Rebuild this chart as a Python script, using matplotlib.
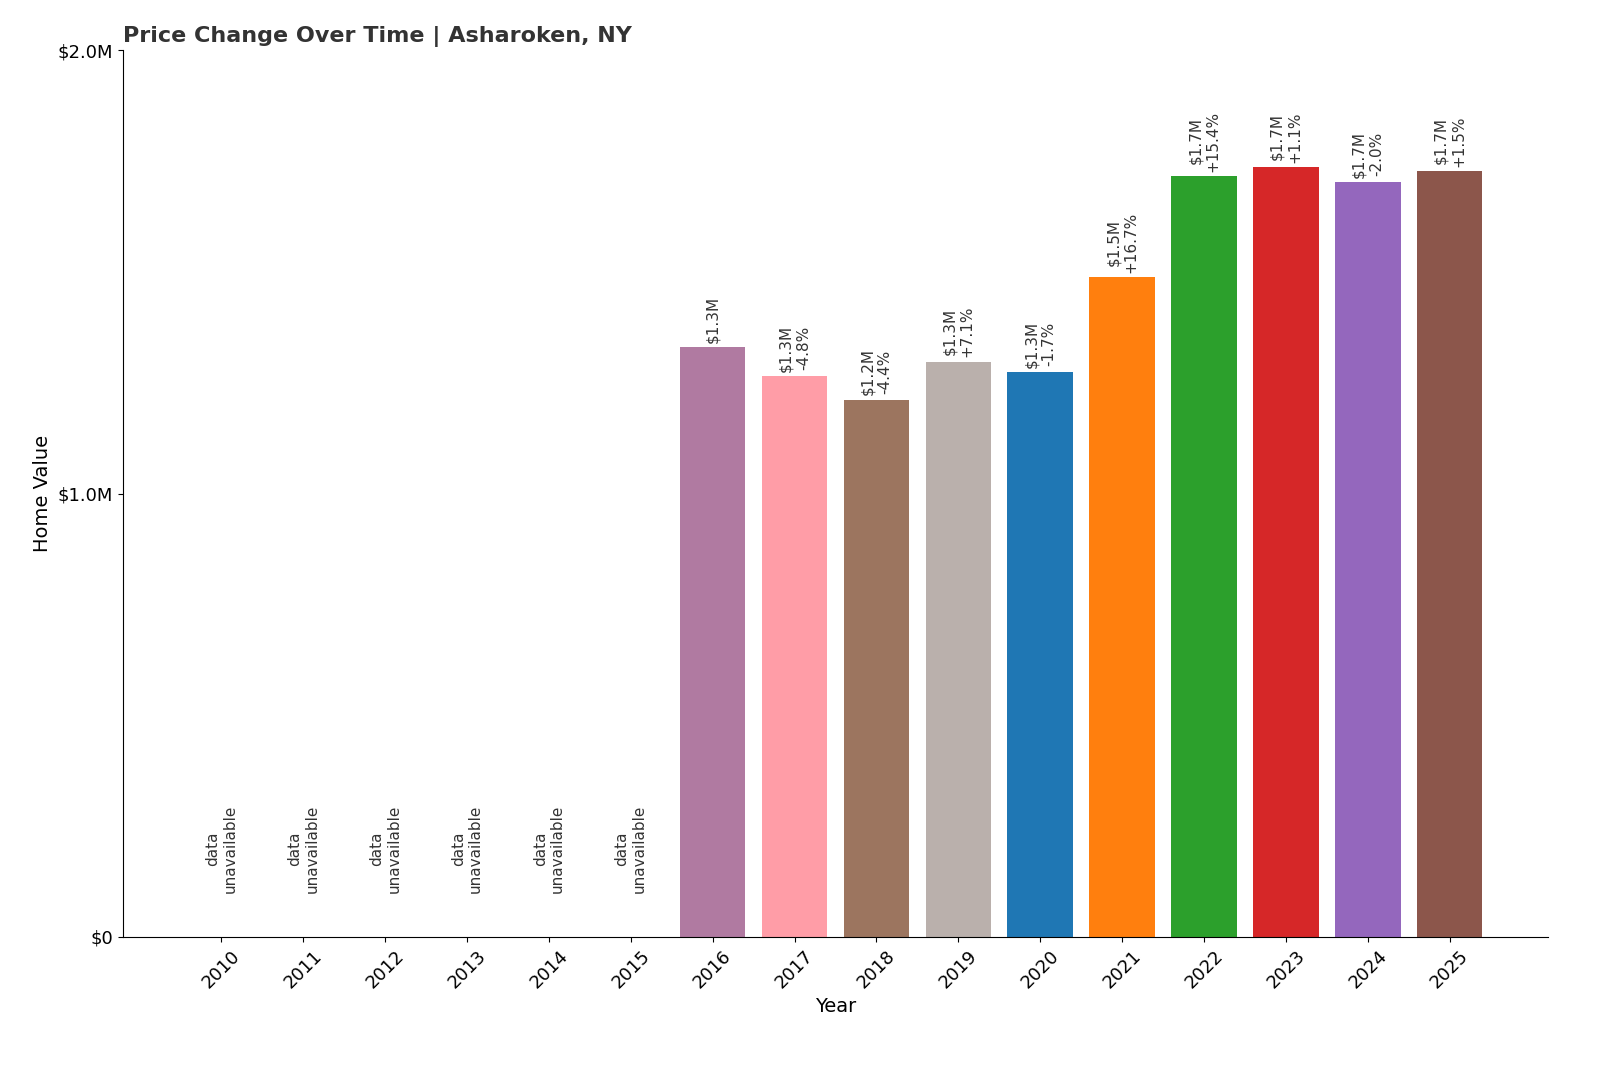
import matplotlib
matplotlib.use("Agg")
import matplotlib.pyplot as plt
from matplotlib.ticker import FuncFormatter

years = [str(y) for y in range(2010, 2026)]
values = [None] * 6 + [1.330e6, 1.265e6, 1.211e6, 1.297e6, 1.274e6, 1.488e6,
                       1.716e6, 1.736e6, 1.702e6, 1.727e6]
value_labels = ["$1.3M", "$1.3M", "$1.2M", "$1.3M", "$1.3M", "$1.5M",
                "$1.7M", "$1.7M", "$1.7M", "$1.7M"]
pct_labels = ["", "-4.8%", "-4.4%", "+7.1%", "-1.7%", "+16.7%",
              "+15.4%", "+1.1%", "-2.0%", "+1.5%"]
colors = ["#b07aa1", "#ff9da7", "#9c755f", "#bab0ac", "#1f77b4", "#ff7f0e",
          "#2ca02c", "#d62728", "#9467bd", "#8c564b"]

fig = plt.figure(figsize=(16, 10.67), dpi=100)
ax = fig.add_axes([123 / 1600, 1 - 937 / 1067, (1548 - 123) / 1600, (937 - 50) / 1067])

x = list(range(len(years)))
k = 0
for i, v in enumerate(values):
    if v is None:
        ax.text(i, 0.1e6, "data\nunavailable", rotation=90, ha="center", va="bottom",
                fontsize=11, color="#333333")
        continue
    ax.bar(i, v, width=0.8, color=colors[k])
    lbl = value_labels[k] + ("\n" + pct_labels[k] if pct_labels[k] else "")
    ax.text(i, v + 0.01e6, lbl, rotation=90, ha="center", va="bottom",
            fontsize=11, color="#333333")
    k += 1

ax.set_xlim(-1.2, 16.2)
ax.set_ylim(0, 2.0e6)
ax.set_yticks([0, 1.0e6, 2.0e6])
ax.yaxis.set_major_formatter(FuncFormatter(lambda v, p: "$0" if v == 0 else f"${v/1e6:.1f}M"))
ax.set_xticks(x)
ax.set_xticklabels(years, rotation=45, fontsize=13)
ax.tick_params(axis="y", labelsize=13)
ax.spines["top"].set_visible(False)
ax.spines["right"].set_visible(False)
ax.set_xlabel("Year", fontsize=14)
ax.set_ylabel("Home Value", fontsize=14)
ax.set_title("Price Change Over Time | Asharoken, NY", loc="left", fontsize=16,
             fontweight="bold", color="#333333")

fig.savefig("out.png", dpi=100)
